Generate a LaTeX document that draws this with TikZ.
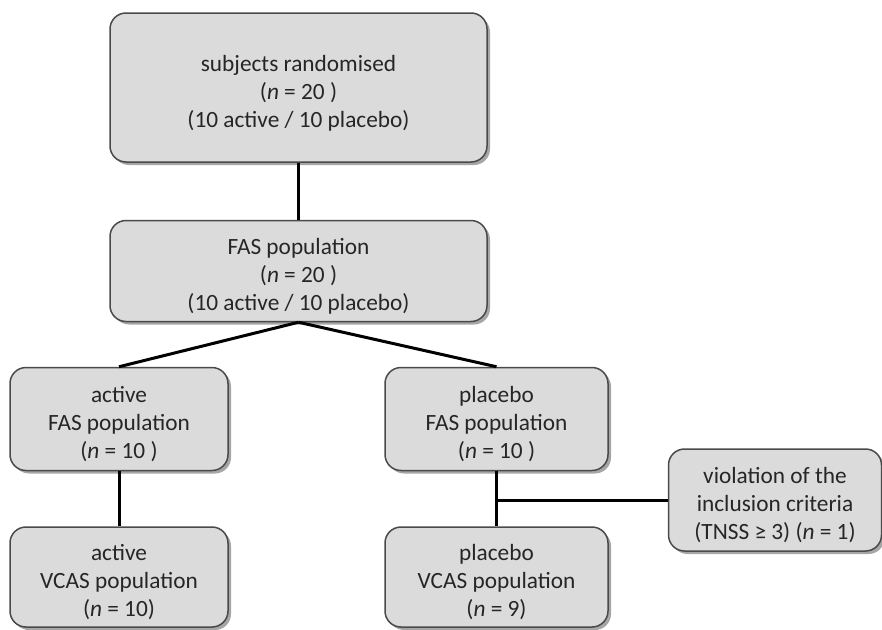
\documentclass[tikz,border=0pt]{standalone}
\usepackage{fontspec}
\setmainfont{Carlito}
\usetikzlibrary{shadows}
\definecolor{boxfill}{HTML}{DBDBDB}
\definecolor{boxline}{HTML}{4A4A4A}
\definecolor{textcol}{HTML}{262626}
\tikzset{
  flowbox/.style={draw=boxline, fill=boxfill, line width=1.5pt, rounded corners=16pt,
    inner sep=0pt,
    drop shadow={shadow xshift=3pt, shadow yshift=-3pt, opacity=0.35, fill=black}},
  boxtext/.style={align=center, font=\fontsize{23.3}{27.8}\selectfont, text=textcol,
    inner sep=0pt, yshift=-5pt},
  link/.style={line width=3pt, black}
}
\begin{document}
\begin{tikzpicture}[x=1pt,y=-1pt]
\useasboundingbox (0,0) rectangle (882,629);
\node[flowbox, minimum width=377pt, minimum height=149pt,
  label={[boxtext, yshift=-1pt]center:{subjects randomised\\(\textit{n} = 20 )\\(10 active / 10 placebo)}}]
  (top) at (298.5,87.5) {};
\node[flowbox, minimum width=377pt, minimum height=101pt,
  label={[boxtext]center:{FAS population\\(\textit{n} = 20 )\\(10 active / 10 placebo)}}]
  (fas) at (298.5,271) {};
\node[flowbox, minimum width=218pt, minimum height=103pt,
  label={[boxtext]center:{active\\FAS population\\(\textit{n} = 10 )}}]
  (afas) at (119,419) {};
\node[flowbox, minimum width=218pt, minimum height=100pt,
  label={[boxtext]center:{active\\VCAS population\\(\textit{n} = 10)}}]
  (avcas) at (119,577) {};
\node[flowbox, minimum width=223pt, minimum height=103pt,
  label={[boxtext]center:{placebo\\FAS population\\(\textit{n} = 10 )}}]
  (pfas) at (496.5,419) {};
\node[flowbox, minimum width=223pt, minimum height=100pt,
  label={[boxtext]center:{placebo\\VCAS population\\(\textit{n} = 9)}}]
  (pvcas) at (496.5,577) {};
\node[flowbox, minimum width=213pt, minimum height=102pt,
  label={[boxtext]center:{violation of the\\inclusion criteria\\(TNSS ≥ 3) (\textit{n} = 1)}}]
  (viol) at (775,500) {};
\draw[link] (top.south) -- (fas.north);
\draw[link] (fas.south) -- (afas.north);
\draw[link] (fas.south) -- (pfas.north);
\draw[link] (afas.south) -- (avcas.north);
\draw[link] (pfas.south) -- (pvcas.north);
\coordinate (junc) at (viol.west -| pfas.south);
\draw[link] (junc) -- (viol.west);
\end{tikzpicture}
\end{document}
